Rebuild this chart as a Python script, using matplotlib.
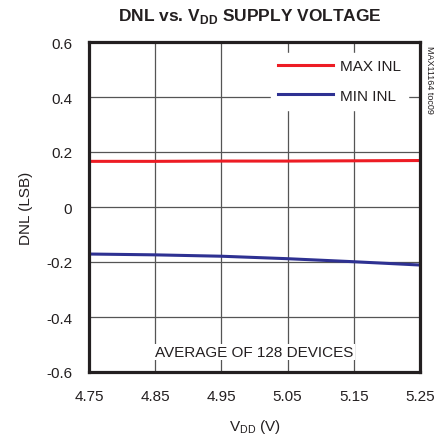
import matplotlib
matplotlib.use("Agg")
import matplotlib.pyplot as plt

plt.rcParams['font.family'] = ['Liberation Sans', 'DejaVu Sans']
plt.rcParams['mathtext.fontset'] = 'custom'
plt.rcParams['mathtext.rm'] = 'Liberation Sans'
plt.rcParams['mathtext.bf'] = 'Liberation Sans:bold'

vdd = [4.75, 4.85, 4.95, 5.05, 5.15, 5.25]
max_inl = [0.166, 0.166, 0.167, 0.167, 0.168, 0.169]
min_inl = [-0.171, -0.174, -0.179, -0.188, -0.199, -0.211]
xticks = [4.75, 4.85, 4.95, 5.05, 5.15, 5.25]
yticks = [-0.6, -0.4, -0.2, 0, 0.2, 0.4, 0.6]
ytick_labels = ['-0.6', '-0.4', '-0.2', '0', '0.2', '0.4', '0.6']

TXT = '#231f20'
fig = plt.figure(figsize=(4.48, 4.39), dpi=100)
ax = fig.add_axes([89/448, 66/439, 331/448, 330/439])

ax.plot(vdd, max_inl, color='#ed1c24', lw=2.2, label='MAX INL', zorder=3)
ax.plot(vdd, min_inl, color='#2e3192', lw=2.2, label='MIN INL', zorder=3)

ax.set_xlim(4.75, 5.25)
ax.set_ylim(-0.6, 0.6)
ax.set_xticks(xticks)
ax.set_xticklabels([f'{v:.2f}' for v in xticks])
ax.set_yticks(yticks)
ax.set_yticklabels(ytick_labels)
ax.grid(True, color='#555555', lw=0.9)
ax.tick_params(axis='both', length=0, labelsize=11, colors=TXT)
ax.tick_params(axis='x', pad=12)
ax.tick_params(axis='y', pad=12)
for s in ax.spines.values():
    s.set_linewidth(2.3)
    s.set_color(TXT)
    s.set_zorder(6)

ax.set_xlabel(r'V$_{\rm DD}$ (V)', fontsize=11, color=TXT)
ax.xaxis.set_label_coords(0.5, -0.135)
ax.set_ylabel('DNL (LSB)', fontsize=11, color=TXT)
ax.yaxis.set_label_coords(-0.169, 0.5)
fig.text(250/448, 1 - 17/439, r'DNL vs. V$_{\mathbf{DD}}$ SUPPLY VOLTAGE', ha='center', va='center',
         fontsize=12.5, fontweight='bold', color=TXT)

leg = ax.legend(loc='upper right', bbox_to_anchor=(0.964, 0.968), frameon=True, fontsize=11,
                handlelength=3.6, borderaxespad=0, labelspacing=1.0, handletextpad=0.5,
                borderpad=0.45, fancybox=False)
leg.get_frame().set_edgecolor('white')
leg.get_frame().set_facecolor('white')
leg.get_frame().set_alpha(1.0)
leg.set_zorder(5)
for t in leg.get_texts():
    t.set_color(TXT)

ax.text(0.5, 0.06, 'AVERAGE OF 128 DEVICES', transform=ax.transAxes, ha='center', va='center',
        fontsize=11, color=TXT, zorder=5,
        bbox=dict(facecolor='white', edgecolor='none', pad=0.8))

fig.text(429/448, 1 - 80/439, 'MAX11164 toc09', rotation=270, ha='center', va='center',
         fontsize=6.5, color=TXT)

fig.savefig('out.png', dpi=100)
